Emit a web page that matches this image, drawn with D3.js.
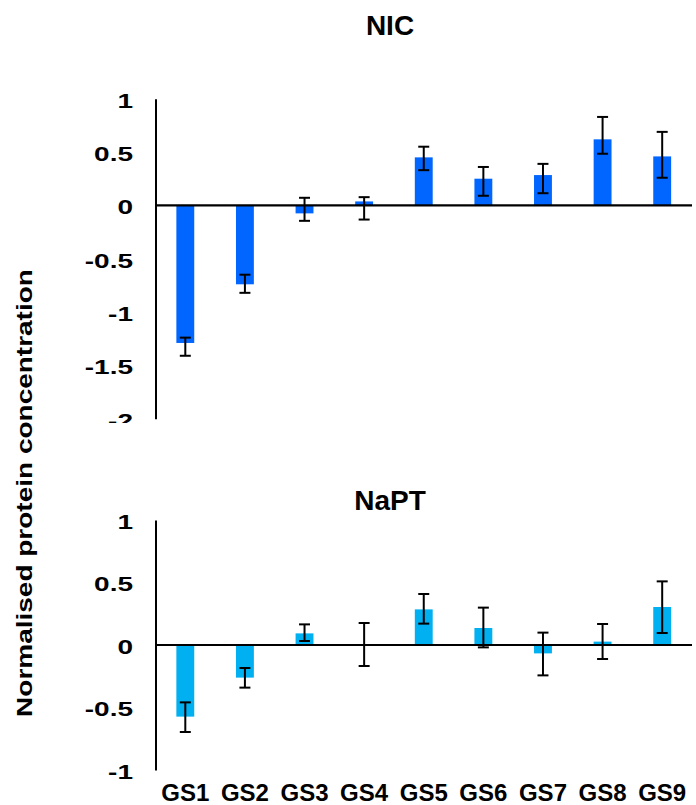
<!DOCTYPE html>
<html>
<head>
<meta charset="utf-8">
<script src="https://cdn.jsdelivr.net/npm/d3@7"></script>
<style>
  html, body { margin: 0; padding: 0; background: #fff; }
  svg { display: block; }
  text { font-family: "Liberation Sans", Arial, sans-serif; font-weight: bold; fill: #000; }
</style>
</head>
<body>
<svg id="chart" width="696" height="805"></svg>
<script>
// ---------- data ----------
const categories = ["GS1", "GS2", "GS3", "GS4", "GS5", "GS6", "GS7", "GS8", "GS9"];

const nicValues   = [-1.29, -0.74, -0.075, 0.037, 0.45, 0.25, 0.284, 0.619, 0.459];
const nicErrPlus  = [0.05, 0.09, 0.146, 0.04, 0.10, 0.11, 0.105, 0.21, 0.23];
const nicErrMinus = [0.12, 0.08, 0.07, 0.17, 0.12, 0.16, 0.17, 0.135, 0.20];

const naptValues   = [-0.573, -0.261, 0.093, 0.005, 0.285, 0.136, -0.067, 0.027, 0.304];
const naptErrPlus  = [0.114, 0.077, 0.072, 0.171, 0.123, 0.163, 0.166, 0.141, 0.205];
const naptErrMinus = [0.123, 0.08, 0.061, 0.173, 0.114, 0.155, 0.176, 0.139, 0.208];

const nicTicks  = [1, 0.5, 0, -0.5, -1, -1.5, -2];
const naptTicks = [1, 0.5, 0, -0.5, -1];

const titles = ["NIC", "NaPT"];
const yLabel = "Normalised protein concentration";
const colors = ["#0066FF", "#00B0F0"];

// ---------- layout ----------
const svg = d3.select("#chart");
const axisX = 155.5, rightX = 692;

const x = d3.scaleBand()
  .domain(categories)
  .range([axisX, rightX])
  .paddingInner(0.7)
  .paddingOuter(0.35);

const panels = [
  { title: titles[0], titleY: 35, values: nicValues, plus: nicErrPlus, minus: nicErrMinus,
    ticks: nicTicks, domain: [-2, 1], range: [418.7, 98.7], color: colors[0], clip: [0, 423] },
  { title: titles[1], titleY: 510, values: naptValues, plus: naptErrPlus, minus: naptErrMinus,
    ticks: naptTicks, domain: [-1, 1], range: [770, 520], color: colors[1], clip: null }
];

const defs = svg.append("defs");

panels.forEach((p, pi) => {
  const y = d3.scaleLinear().domain(p.domain).range(p.range);
  const g = svg.append("g");
  if (p.clip) {
    defs.append("clipPath").attr("id", "clip" + pi)
      .append("rect").attr("x", 0).attr("y", p.clip[0]).attr("width", 696).attr("height", p.clip[1] - p.clip[0]);
    g.attr("clip-path", "url(#clip" + pi + ")");
  }

  // title
  svg.append("text")
    .attr("x", 390).attr("y", p.titleY)
    .attr("text-anchor", "middle")
    .style("font-size", "28px")
    .text(p.title);

  // bars
  g.selectAll("rect.bar")
    .data(p.values)
    .join("rect")
    .attr("class", "bar")
    .attr("x", (d, i) => x(categories[i]))
    .attr("width", x.bandwidth())
    .attr("y", d => Math.min(y(d), y(0)))
    .attr("height", d => Math.abs(y(d) - y(0)))
    .attr("fill", p.color);

  // y axis
  const axis = d3.axisLeft(y)
    .tickValues(p.ticks)
    .tickFormat(d => String(d))
    .tickSize(0)
    .tickSizeOuter(0);
  const ag = g.append("g")
    .attr("transform", `translate(${axisX},0)`)
    .call(axis);
  ag.select(".domain").attr("stroke", "#000").attr("stroke-width", 2);
  ag.selectAll(".tick text")
    .attr("x", null).attr("dy", null)
    .attr("text-anchor", "end")
    .attr("transform", "translate(-22.5,8.3) scale(1,0.75)")
    .style("font-size", "28px")
    .style("font-family", "'Liberation Sans', Arial, sans-serif")
    .style("font-weight", "bold")
    .attr("fill", "#000");

  // zero line
  g.append("line")
    .attr("x1", axisX).attr("x2", rightX)
    .attr("y1", y(0)).attr("y2", y(0))
    .attr("stroke", "#000").attr("stroke-width", 2.2);

  // error bars
  const eb = g.selectAll("g.err")
    .data(p.values)
    .join("g").attr("class", "err");
  const cx = (i) => x(categories[i]) + x.bandwidth() / 2;
  const capW = 5.5;
  eb.append("line")
    .attr("x1", (d, i) => cx(i)).attr("x2", (d, i) => cx(i))
    .attr("y1", (d, i) => y(d + p.plus[i])).attr("y2", (d, i) => y(d - p.minus[i]))
    .attr("stroke", "#000").attr("stroke-width", 2);
  eb.append("line")
    .attr("x1", (d, i) => cx(i) - capW).attr("x2", (d, i) => cx(i) + capW)
    .attr("y1", (d, i) => y(d + p.plus[i])).attr("y2", (d, i) => y(d + p.plus[i]))
    .attr("stroke", "#000").attr("stroke-width", 2);
  eb.append("line")
    .attr("x1", (d, i) => cx(i) - capW).attr("x2", (d, i) => cx(i) + capW)
    .attr("y1", (d, i) => y(d - p.minus[i])).attr("y2", (d, i) => y(d - p.minus[i]))
    .attr("stroke", "#000").attr("stroke-width", 2);
});

// x labels (bottom panel)
svg.append("g")
  .selectAll("text")
  .data(categories)
  .join("text")
  .attr("x", d => x(d) + x.bandwidth() / 2)
  .attr("y", 801)
  .attr("text-anchor", "middle")
  .style("font-size", "24px")
  .text(d => d);

// y label
svg.append("text")
  .attr("transform", "translate(32.3,493) rotate(-90) scale(1,0.78)")
  .attr("text-anchor", "middle")
  .style("font-size", "28px")
  .text(yLabel);
</script>
</body>
</html>
